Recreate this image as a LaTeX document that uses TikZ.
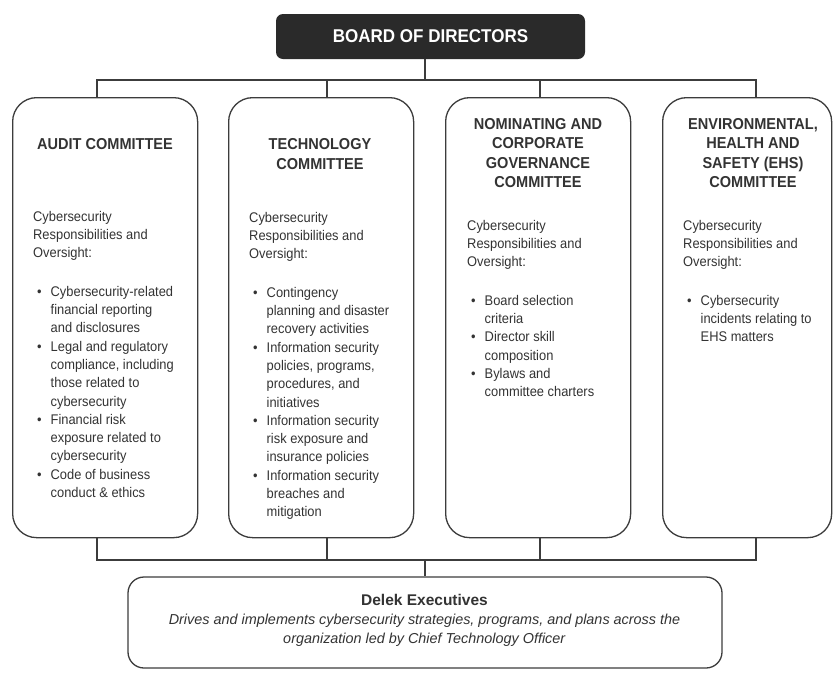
\documentclass[tikz,border=0pt]{standalone}
\usepackage{fontspec}
\setmainfont{Liberation Sans}
\newfontfamily\narrowsf{Liberation Sans}[FakeStretch=0.92]
\usepackage{xcolor}
\definecolor{inkgray}{HTML}{333333}
\definecolor{rulegray}{HTML}{3C3C3C}
\definecolor{boardfill}{HTML}{2A2A2A}
\tikzset{
  board/.style={fill=boardfill, rounded corners=7pt, text=white,
    font=\narrowsf\bfseries\fontsize{18.5}{20}\selectfont, minimum width=309pt, minimum height=45pt},
  cbox/.style={draw=rulegray, line width=1.3pt, rounded corners=24pt,
    minimum width=185pt, minimum height=440pt, anchor=north west},
  chead/.style={text=inkgray, align=center, inner sep=0pt,
    font=\narrowsf\bfseries\fontsize{15.8}{19.6}\selectfont},
  cbody/.style={text=inkgray, align=left, anchor=north west, inner sep=0pt,
    font=\narrowsf\fontsize{14}{18.3}\selectfont},
  exbox/.style={draw=rulegray, line width=1.3pt, rounded corners=16pt,
    minimum width=594pt, minimum height=91pt},
  extext/.style={text=inkgray, align=center, inner sep=0pt,
    font=\fontsize{14.4}{19}\selectfont},
  link/.style={draw=rulegray, line width=1.7pt}
}
\newcommand{\bul}{\hspace*{4pt}\makebox[13.5pt][l]{\textbullet}}
\newcommand{\ind}{\hspace*{17.5pt}}

\begin{document}
\begin{tikzpicture}[x=1pt,y=-1pt]
\useasboundingbox[fill=white] (0,0) rectangle (833,673);
% board and committees
\node[board] (bod) at (430.5,36.5) {BOARD OF DIRECTORS};
\node[cbox] (audit) at (12,97) {};
\node[cbox] (tech) at (228,97) {};
\node[cbox] (nom) at (445,97) {};
\node[cbox, minimum width=169pt] (ehs) at (662,97) {};

\node[chead] (audith) at (105,144) {AUDIT COMMITTEE};
\node[chead] (techh) at (320,154) {TECHNOLOGY\\COMMITTEE};
\node[chead] (nomh) at (538,153) {NOMINATING AND\\CORPORATE\\GOVERNANCE\\COMMITTEE};
\node[chead] (ehsh) at (753,153) {ENVIRONMENTAL,\\HEALTH AND\\SAFETY (EHS)\\COMMITTEE};

\node[cbody] (auditb) at (33,211) {Cybersecurity\\Responsibilities and\\Oversight:\\[20pt]
  \bul Cybersecurity-related\\
  \ind financial reporting\\
  \ind and disclosures\\
  \bul Legal and regulatory\\
  \ind compliance, including\\
  \ind those related to\\
  \ind cybersecurity\\
  \bul Financial risk\\
  \ind exposure related to\\
  \ind cybersecurity\\
  \bul Code of business\\
  \ind conduct \& ethics};
\node[cbody] (techb) at (249,212) {Cybersecurity\\Responsibilities and\\Oversight:\\[20pt]
  \bul Contingency\\
  \ind planning and disaster\\
  \ind recovery activities\\
  \bul Information security\\
  \ind policies, programs,\\
  \ind procedures, and\\
  \ind initiatives\\
  \bul Information security\\
  \ind risk exposure and\\
  \ind insurance policies\\
  \bul Information security\\
  \ind breaches and\\
  \ind mitigation};
\node[cbody] (nomb) at (467,220) {Cybersecurity\\Responsibilities and\\Oversight:\\[20pt]
  \bul Board selection\\
  \ind criteria\\
  \bul Director skill\\
  \ind composition\\
  \bul Bylaws and\\
  \ind committee charters};
\node[cbody] (ehsb) at (683,220) {Cybersecurity\\Responsibilities and\\Oversight:\\[20pt]
  \bul Cybersecurity\\
  \ind incidents relating to\\
  \ind EHS matters};

% executives
\node[exbox] (dex) at (425,622.5) {};
\node[extext] (dext) at (424.5,620) {\textbf{\fontsize{15.5}{19}\selectfont Delek Executives}\\
  \textit{Drives and implements cybersecurity strategies, programs, and plans across the}\\
  \textit{organization led by Chief Technology Officer}};

% connectors
\coordinate (topbus) at (425,80);
\coordinate (lowbus) at (425,560);
\draw[link] (bod.south -| topbus) -- (topbus);
\draw[link] ([xshift=-8.5pt]audit.north) |- (topbus) -| ([xshift=8.5pt]ehs.north);
\draw[link] ([xshift=5.5pt]tech.north) |- (topbus);
\draw[link] ([xshift=2pt]nom.north) |- (topbus);
\draw[link] ([xshift=-8.5pt]audit.south) |- (lowbus) -| ([xshift=8.5pt]ehs.south);
\draw[link] ([xshift=5.5pt]tech.south) |- (lowbus);
\draw[link] ([xshift=2pt]nom.south) |- (lowbus);
\draw[link] (lowbus) -- (dex.north);
\end{tikzpicture}
\end{document}
